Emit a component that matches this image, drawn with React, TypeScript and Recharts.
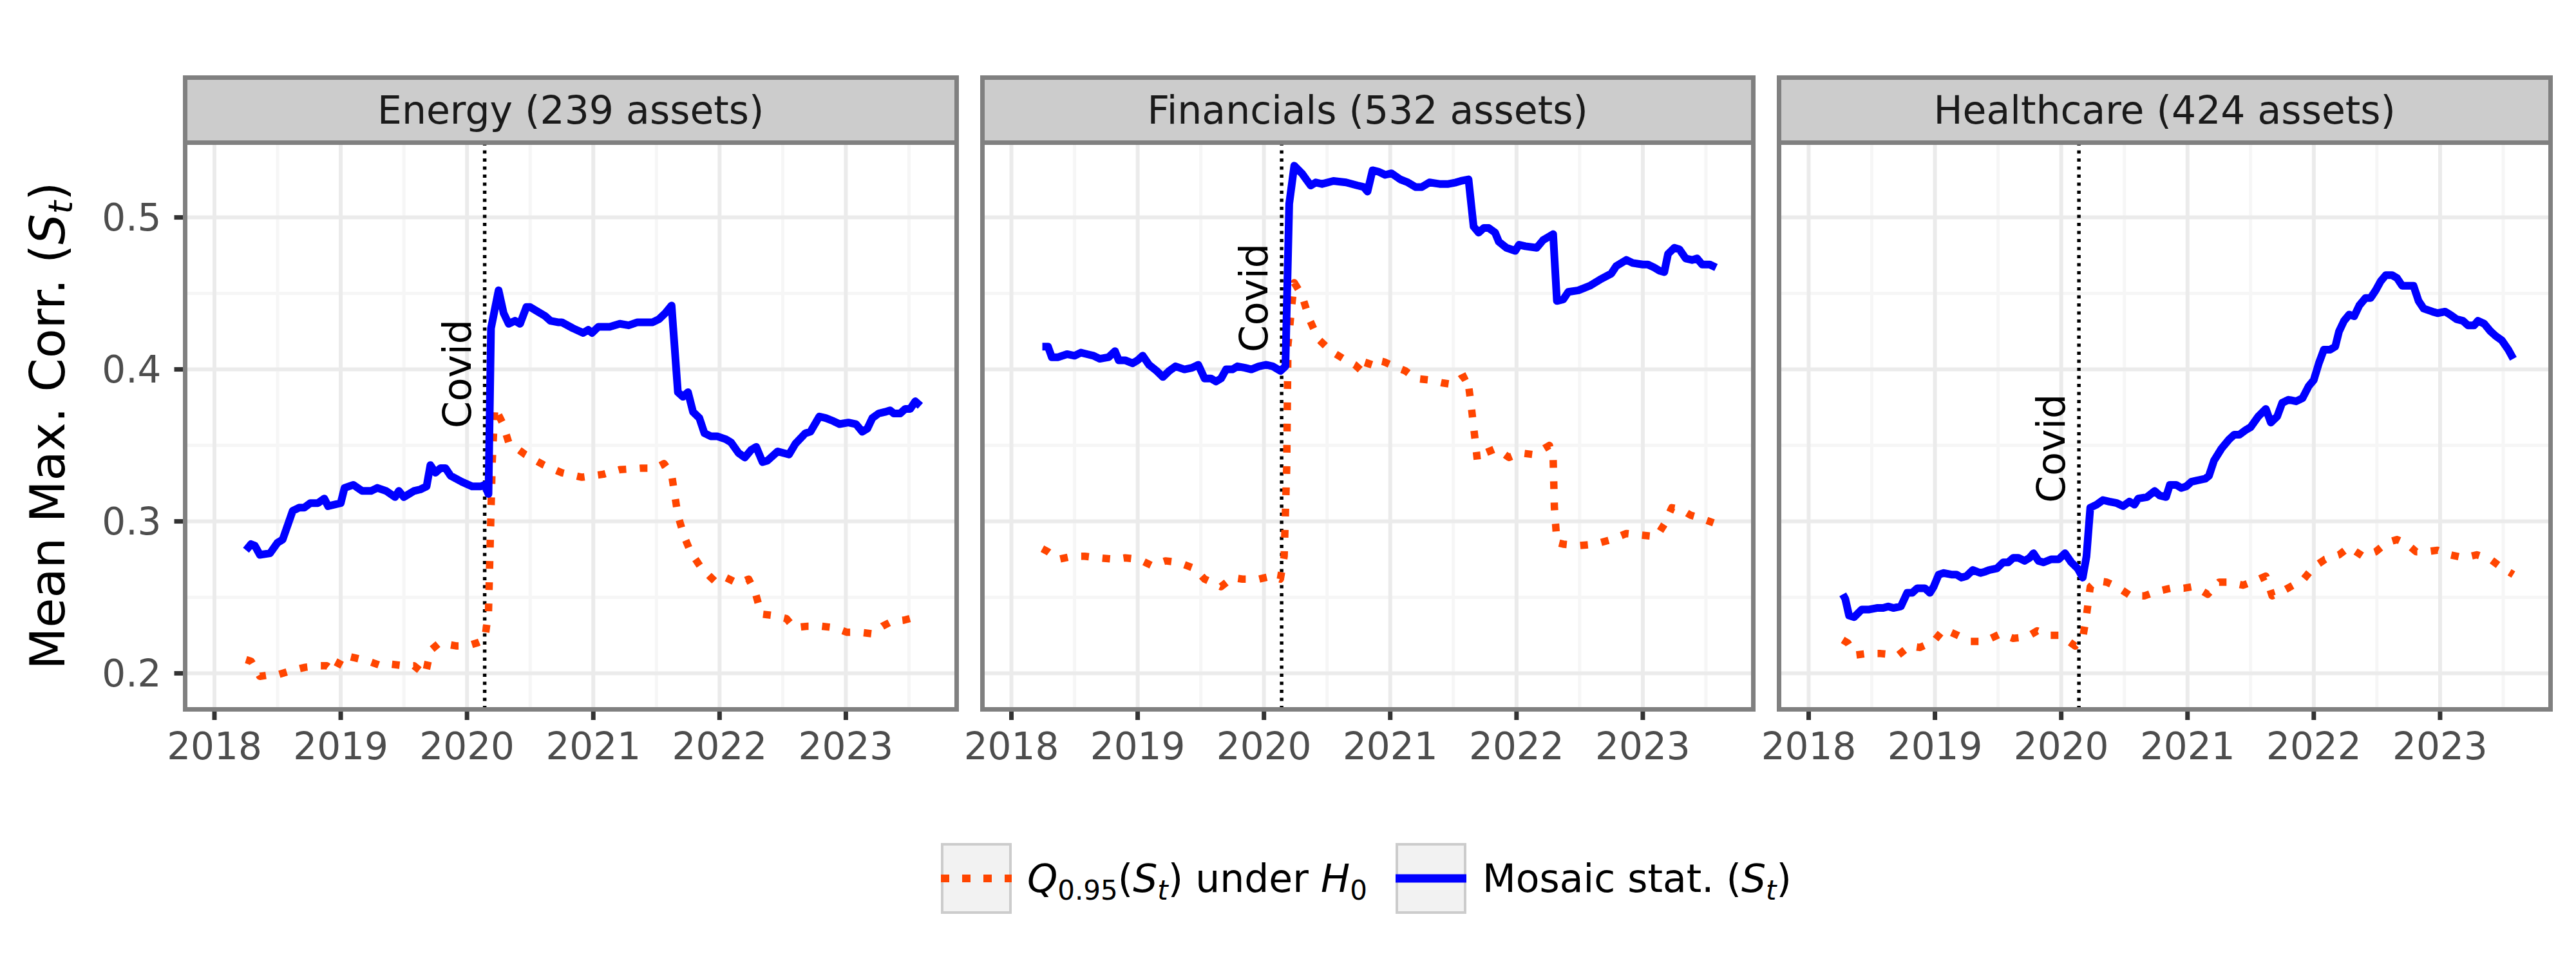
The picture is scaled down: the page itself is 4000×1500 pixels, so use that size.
import { LineChart, Line, XAxis, YAxis, ReferenceLine, ReferenceDot } from 'recharts'

// the page keeps the default 8px body margin otherwise
document.body.style.margin = '0'

const FONT = '"DejaVu Sans", sans-serif'

const yearTicks = [2018, 2019, 2020, 2021, 2022, 2023]
const yearMinor = [2018.5, 2019.5, 2020.5, 2021.5, 2022.5, 2023.5]
const corrTicks = [0.2, 0.3, 0.4, 0.5]
const corrMinor = [0.25, 0.35, 0.45]
const xDomain: [number, number] = [2017.768, 2023.875]
const yDomain: [number, number] = [0.1765, 0.5494]
const covidDate = 2020.14

const panelTitles = ['Energy (239 assets)', 'Financials (532 assets)', 'Healthcare (424 assets)']
const covidLabelAt = [0.397, 0.447, 0.348]

// [year, value]
const energyStat: [number, number][] = [
  [2018.25, 0.281], [2018.29, 0.285], [2018.32, 0.284], [2018.36, 0.278], [2018.44, 0.279],
  [2018.5, 0.286], [2018.54, 0.288], [2018.62, 0.307], [2018.67, 0.309], [2018.71, 0.309],
  [2018.76, 0.312], [2018.82, 0.312], [2018.87, 0.315], [2018.9, 0.31], [2019.0, 0.312],
  [2019.03, 0.322], [2019.1, 0.324], [2019.17, 0.32], [2019.24, 0.32], [2019.29, 0.322],
  [2019.36, 0.32], [2019.43, 0.316], [2019.46, 0.32], [2019.5, 0.316], [2019.58, 0.32],
  [2019.63, 0.321], [2019.68, 0.323], [2019.71, 0.337], [2019.75, 0.332], [2019.79, 0.335],
  [2019.83, 0.335], [2019.87, 0.33], [2019.96, 0.326], [2020.04, 0.323], [2020.11, 0.323],
  [2020.14, 0.324], [2020.17, 0.318], [2020.19, 0.427], [2020.25, 0.452], [2020.29, 0.437],
  [2020.33, 0.43], [2020.38, 0.432], [2020.42, 0.43], [2020.47, 0.441], [2020.5, 0.441],
  [2020.62, 0.435], [2020.66, 0.432], [2020.72, 0.431], [2020.75, 0.431], [2020.84, 0.427],
  [2020.92, 0.424], [2020.96, 0.426], [2020.99, 0.424], [2021.04, 0.428], [2021.13, 0.428],
  [2021.21, 0.43], [2021.28, 0.429], [2021.35, 0.431], [2021.47, 0.431], [2021.52, 0.433],
  [2021.57, 0.437], [2021.62, 0.442], [2021.67, 0.385], [2021.71, 0.382], [2021.75, 0.385],
  [2021.79, 0.372], [2021.84, 0.368], [2021.88, 0.358], [2021.93, 0.356], [2021.98, 0.356],
  [2022.05, 0.354], [2022.09, 0.352], [2022.15, 0.345], [2022.2, 0.342], [2022.25, 0.347],
  [2022.29, 0.349], [2022.34, 0.339], [2022.38, 0.34], [2022.46, 0.346], [2022.55, 0.344],
  [2022.6, 0.351], [2022.68, 0.358], [2022.72, 0.359], [2022.79, 0.369], [2022.84, 0.368],
  [2022.9, 0.366], [2022.95, 0.364], [2023.02, 0.365], [2023.08, 0.364], [2023.13, 0.359],
  [2023.17, 0.361], [2023.21, 0.368], [2023.26, 0.371], [2023.31, 0.372], [2023.35, 0.373],
  [2023.38, 0.371], [2023.43, 0.371], [2023.47, 0.374], [2023.51, 0.374], [2023.55, 0.379],
  [2023.59, 0.376],
]

const energyQ: [number, number][] = [
  [2018.25, 0.209], [2018.29, 0.208], [2018.36, 0.198], [2018.44, 0.199], [2018.5, 0.199],
  [2018.62, 0.202], [2018.72, 0.204], [2018.82, 0.205], [2018.89, 0.205], [2018.95, 0.201],
  [2019.02, 0.212], [2019.12, 0.21], [2019.22, 0.208], [2019.32, 0.205], [2019.4, 0.206],
  [2019.5, 0.205], [2019.58, 0.205], [2019.67, 0.199], [2019.71, 0.215], [2019.78, 0.22],
  [2019.85, 0.219], [2019.92, 0.218], [2020.0, 0.218], [2020.08, 0.22], [2020.14, 0.222],
  [2020.17, 0.24], [2020.2, 0.34], [2020.22, 0.375], [2020.28, 0.365], [2020.33, 0.352],
  [2020.46, 0.344], [2020.61, 0.337], [2020.75, 0.332], [2020.91, 0.329], [2021.08, 0.331],
  [2021.21, 0.334], [2021.38, 0.335], [2021.49, 0.335], [2021.56, 0.338], [2021.62, 0.331],
  [2021.67, 0.304], [2021.72, 0.29], [2021.77, 0.28], [2021.85, 0.27], [2021.92, 0.264],
  [2021.97, 0.26], [2022.05, 0.263], [2022.15, 0.259], [2022.23, 0.262], [2022.28, 0.254],
  [2022.33, 0.239], [2022.43, 0.238], [2022.53, 0.236], [2022.59, 0.23], [2022.7, 0.231],
  [2022.81, 0.231], [2022.91, 0.23], [2023.01, 0.227], [2023.11, 0.227], [2023.21, 0.226],
  [2023.29, 0.231], [2023.36, 0.234], [2023.46, 0.235], [2023.55, 0.237],
]

const financialsStat: [number, number][] = [
  [2018.245, 0.415], [2018.29, 0.415], [2018.32, 0.408], [2018.37, 0.408], [2018.44, 0.41],
  [2018.5, 0.409], [2018.55, 0.411], [2018.6, 0.41], [2018.65, 0.409], [2018.7, 0.407],
  [2018.77, 0.408], [2018.82, 0.412], [2018.85, 0.406], [2018.9, 0.406], [2018.96, 0.404],
  [2019.0, 0.406], [2019.04, 0.409], [2019.09, 0.403], [2019.15, 0.399], [2019.2, 0.395],
  [2019.25, 0.399], [2019.3, 0.402], [2019.37, 0.4], [2019.43, 0.401], [2019.48, 0.403],
  [2019.53, 0.394], [2019.58, 0.394], [2019.62, 0.392], [2019.66, 0.394], [2019.7, 0.4],
  [2019.75, 0.4], [2019.79, 0.402], [2019.85, 0.401], [2019.9, 0.4], [2019.96, 0.402],
  [2020.02, 0.403], [2020.07, 0.402], [2020.13, 0.399], [2020.17, 0.402], [2020.2, 0.509],
  [2020.24, 0.534], [2020.3, 0.529], [2020.37, 0.521], [2020.41, 0.523], [2020.46, 0.522],
  [2020.55, 0.524], [2020.65, 0.523], [2020.74, 0.521], [2020.79, 0.52], [2020.82, 0.517],
  [2020.86, 0.531], [2020.91, 0.53], [2020.96, 0.528], [2021.01, 0.529], [2021.08, 0.525],
  [2021.14, 0.523], [2021.2, 0.52], [2021.25, 0.52], [2021.31, 0.523], [2021.39, 0.522],
  [2021.46, 0.522], [2021.52, 0.523], [2021.56, 0.524], [2021.62, 0.525], [2021.66, 0.494],
  [2021.7, 0.49], [2021.74, 0.493], [2021.78, 0.493], [2021.83, 0.49], [2021.86, 0.484],
  [2021.92, 0.48], [2021.99, 0.478], [2022.02, 0.482], [2022.07, 0.481], [2022.16, 0.48],
  [2022.21, 0.485], [2022.29, 0.489], [2022.32, 0.445], [2022.37, 0.446], [2022.41, 0.451],
  [2022.49, 0.452], [2022.58, 0.455], [2022.66, 0.459], [2022.75, 0.463], [2022.79, 0.468],
  [2022.87, 0.472], [2022.92, 0.47], [2023.0, 0.469], [2023.04, 0.469], [2023.09, 0.467],
  [2023.13, 0.465], [2023.17, 0.464], [2023.2, 0.476], [2023.25, 0.48], [2023.29, 0.479],
  [2023.34, 0.473], [2023.39, 0.472], [2023.43, 0.473], [2023.47, 0.469], [2023.53, 0.469],
  [2023.58, 0.467],
]

const financialsQ: [number, number][] = [
  [2018.245, 0.282], [2018.29, 0.28], [2018.37, 0.275], [2018.48, 0.277], [2018.58, 0.277],
  [2018.69, 0.276], [2018.82, 0.275], [2018.9, 0.276], [2019.01, 0.275], [2019.11, 0.271],
  [2019.22, 0.274], [2019.32, 0.273], [2019.45, 0.269], [2019.53, 0.262], [2019.61, 0.259],
  [2019.66, 0.257], [2019.75, 0.263], [2019.83, 0.262], [2019.96, 0.262], [2020.06, 0.264],
  [2020.13, 0.262], [2020.16, 0.277], [2020.18, 0.335], [2020.19, 0.416], [2020.22, 0.442],
  [2020.24, 0.457], [2020.3, 0.449], [2020.36, 0.433], [2020.43, 0.42], [2020.53, 0.412],
  [2020.63, 0.407], [2020.72, 0.403], [2020.8, 0.397], [2020.84, 0.407], [2020.95, 0.405],
  [2021.03, 0.402], [2021.12, 0.399], [2021.2, 0.394], [2021.31, 0.393], [2021.42, 0.391],
  [2021.5, 0.39], [2021.56, 0.394], [2021.61, 0.396], [2021.64, 0.377], [2021.67, 0.355],
  [2021.69, 0.34], [2021.75, 0.345], [2021.84, 0.348], [2021.94, 0.342], [2022.03, 0.345],
  [2022.13, 0.344], [2022.2, 0.347], [2022.26, 0.35], [2022.29, 0.342], [2022.3, 0.309],
  [2022.32, 0.286], [2022.37, 0.285], [2022.49, 0.284], [2022.62, 0.285], [2022.75, 0.288],
  [2022.87, 0.292], [2022.98, 0.291], [2023.11, 0.29], [2023.17, 0.298], [2023.23, 0.309],
  [2023.3, 0.308], [2023.38, 0.304], [2023.46, 0.302], [2023.56, 0.299],
]

const healthcareStat: [number, number][] = [
  [2018.27, 0.252], [2018.29, 0.249], [2018.32, 0.238], [2018.36, 0.237], [2018.42, 0.242],
  [2018.48, 0.242], [2018.54, 0.243], [2018.59, 0.243], [2018.63, 0.244], [2018.67, 0.243],
  [2018.73, 0.244], [2018.78, 0.253], [2018.82, 0.253], [2018.86, 0.256], [2018.92, 0.256],
  [2018.96, 0.253], [2018.99, 0.257], [2019.03, 0.265], [2019.07, 0.266], [2019.13, 0.265],
  [2019.17, 0.265], [2019.21, 0.263], [2019.25, 0.264], [2019.3, 0.268], [2019.36, 0.266],
  [2019.4, 0.267], [2019.43, 0.268], [2019.49, 0.269], [2019.54, 0.273], [2019.58, 0.273],
  [2019.62, 0.276], [2019.66, 0.276], [2019.71, 0.274], [2019.75, 0.276], [2019.78, 0.279],
  [2019.82, 0.274], [2019.86, 0.273], [2019.92, 0.275], [2019.98, 0.275], [2020.03, 0.279],
  [2020.08, 0.273], [2020.13, 0.269], [2020.17, 0.263], [2020.2, 0.277], [2020.23, 0.309],
  [2020.28, 0.311], [2020.33, 0.314], [2020.38, 0.313], [2020.44, 0.312], [2020.49, 0.31],
  [2020.54, 0.313], [2020.58, 0.311], [2020.61, 0.315], [2020.68, 0.316], [2020.74, 0.32],
  [2020.78, 0.317], [2020.83, 0.316], [2020.86, 0.324], [2020.91, 0.324], [2020.95, 0.322],
  [2020.99, 0.323], [2021.03, 0.326], [2021.08, 0.327], [2021.14, 0.328], [2021.17, 0.33],
  [2021.21, 0.34], [2021.27, 0.348], [2021.33, 0.354], [2021.37, 0.357], [2021.41, 0.357],
  [2021.46, 0.36], [2021.5, 0.362], [2021.56, 0.369], [2021.62, 0.374], [2021.66, 0.365],
  [2021.71, 0.369], [2021.75, 0.378], [2021.8, 0.38], [2021.86, 0.379], [2021.91, 0.381],
  [2021.96, 0.389], [2022.0, 0.393], [2022.04, 0.404], [2022.08, 0.413], [2022.13, 0.413],
  [2022.17, 0.415], [2022.2, 0.425], [2022.24, 0.432], [2022.28, 0.436], [2022.32, 0.435],
  [2022.36, 0.442], [2022.41, 0.447], [2022.45, 0.447], [2022.49, 0.452], [2022.53, 0.458],
  [2022.57, 0.462], [2022.62, 0.462], [2022.66, 0.46], [2022.7, 0.455], [2022.75, 0.455],
  [2022.79, 0.455], [2022.83, 0.445], [2022.87, 0.44], [2022.94, 0.438], [2022.98, 0.437],
  [2023.04, 0.438], [2023.08, 0.436], [2023.13, 0.433], [2023.18, 0.432], [2023.22, 0.429],
  [2023.27, 0.429], [2023.3, 0.432], [2023.35, 0.43], [2023.4, 0.425], [2023.44, 0.422],
  [2023.49, 0.419], [2023.54, 0.413], [2023.58, 0.407],
]

const healthcareQ: [number, number][] = [
  [2018.27, 0.222], [2018.31, 0.22], [2018.37, 0.212], [2018.46, 0.213], [2018.57, 0.213],
  [2018.71, 0.212], [2018.8, 0.218], [2018.88, 0.217], [2018.99, 0.221], [2019.07, 0.229],
  [2019.18, 0.225], [2019.28, 0.221], [2019.39, 0.221], [2019.52, 0.226], [2019.62, 0.223],
  [2019.73, 0.224], [2019.81, 0.228], [2019.9, 0.225], [2019.98, 0.225], [2020.06, 0.221],
  [2020.11, 0.218], [2020.17, 0.223], [2020.2, 0.238], [2020.23, 0.257], [2020.28, 0.261],
  [2020.36, 0.26], [2020.44, 0.257], [2020.55, 0.251], [2020.66, 0.251], [2020.76, 0.254],
  [2020.87, 0.256], [2020.97, 0.256], [2021.04, 0.257], [2021.08, 0.256], [2021.16, 0.252],
  [2021.25, 0.26], [2021.33, 0.26], [2021.44, 0.258], [2021.54, 0.261], [2021.62, 0.264],
  [2021.67, 0.251], [2021.75, 0.254], [2021.86, 0.259], [2021.92, 0.262], [2022.0, 0.27],
  [2022.09, 0.275], [2022.2, 0.278], [2022.28, 0.283], [2022.39, 0.277], [2022.49, 0.28],
  [2022.58, 0.286], [2022.66, 0.288], [2022.74, 0.285], [2022.81, 0.28], [2022.89, 0.28],
  [2022.98, 0.281], [2023.08, 0.278], [2023.19, 0.276], [2023.29, 0.278], [2023.4, 0.275],
  [2023.48, 0.27], [2023.58, 0.265],
]

const pts = (a: [number, number][]) => a.map(([x, y]) => ({ x, y }))

const panelStat = [energyStat, financialsStat, healthcareStat].map(pts)
const panelQ = [energyQ, financialsQ, healthcareQ].map(pts)

const BLUE = '#0000FF'
const ORANGE = '#FF4500'
const PLOT_TOP = 221
const PLOT_H = 880
const PLOT_W = 1197.5
const AXIS_H = 110
const SIDE = 70 // room for the first x tick label on panels without a y axis
const panelLefts = [287.5, 1525, 2762.5]

const tickStyle = { fill: '#4D4D4D', fontSize: 58, fontFamily: FONT }
const tickLine = { stroke: '#333333', strokeWidth: 7 }

function YTitle(props: any) {
  const vb = props.viewBox || { y: PLOT_TOP, height: PLOT_H }
  const x = 100
  const y = vb.y + vb.height / 2
  return (
    <text x={x} y={y} transform={`rotate(-90 ${x} ${y})`} textAnchor="middle"
      fontFamily={FONT} fontSize={75} fill="#000000">
      Mean Max. Corr. (<tspan fontStyle="italic">S</tspan>
      <tspan fontStyle="italic" fontSize={52} dy={12}>t</tspan>
      <tspan dy={-12}>)</tspan>
    </text>
  )
}

function CovidLabel(props: any) {
  const vb = props.viewBox
  const x = vb.x + (vb.width || 0) / 2 - 22
  const y = vb.y + (vb.height || 0) / 2
  return (
    <text x={x} y={y} transform={`rotate(-90 ${x} ${y})`} textAnchor="middle"
      fontFamily={FONT} fontSize={60} fill="#000000">Covid</text>
  )
}

function Panel({ idx }: { idx: number }) {
  const left = panelLefts[idx]
  const first = idx === 0
  const chartLeft = first ? 0 : left - SIDE
  const leftRoom = first ? left : SIDE
  return (
    <>
      <div style={{
        position: 'absolute', left: left - 3.5, top: 117, width: PLOT_W + 7, height: 107.5,
        boxSizing: 'border-box', border: '7px solid #808080', background: '#CCCCCC',
        display: 'flex', alignItems: 'center', justifyContent: 'center',
        fontFamily: FONT, fontSize: 60, color: '#1A1A1A',
      }}>
        {panelTitles[idx]}
      </div>
      <div style={{ position: 'absolute', left: chartLeft, top: 0 }}>
        <LineChart width={leftRoom + PLOT_W + SIDE} height={PLOT_TOP + PLOT_H + AXIS_H}
          margin={{ top: PLOT_TOP, right: SIDE, bottom: 0, left: first ? 0 : SIDE }}>
          <XAxis type="number" dataKey="x" domain={xDomain} ticks={yearTicks} allowDataOverflow
            interval={0} height={AXIS_H} tickSize={17} tickMargin={20} axisLine={false}
            tickLine={tickLine} tick={tickStyle} />
          {first ? (
            <YAxis type="number" domain={yDomain} ticks={corrTicks} allowDataOverflow width={left}
              tickSize={17} tickMargin={20} axisLine={false} tickLine={tickLine} tick={tickStyle}
              tickFormatter={(v: number) => v.toFixed(1)} label={(p: any) => <YTitle {...p} />} />
          ) : (
            <YAxis type="number" domain={yDomain} allowDataOverflow hide />
          )}
          {yearMinor.map(v => (
            <ReferenceLine key={'xm' + v} x={v} stroke="#F6F6F6" strokeWidth={5} zIndex={-100} />
          ))}
          {corrMinor.map(v => (
            <ReferenceLine key={'ym' + v} y={v} stroke="#F6F6F6" strokeWidth={5} zIndex={-100} />
          ))}
          {yearTicks.map(v => (
            <ReferenceLine key={'x' + v} x={v} stroke="#EBEBEB" strokeWidth={6} zIndex={-90} />
          ))}
          {corrTicks.map(v => (
            <ReferenceLine key={'y' + v} y={v} stroke="#EBEBEB" strokeWidth={6} zIndex={-90} />
          ))}
          <ReferenceLine x={covidDate} stroke="#000000" strokeWidth={5.5} strokeDasharray="5 7.5" />
          <ReferenceDot x={covidDate} y={covidLabelAt[idx]} r={1} fill="none" stroke="none"
            label={{ content: (p: any) => <CovidLabel {...p} /> }} />
          <Line data={panelQ[idx]} dataKey="y" type="linear" stroke={ORANGE} strokeWidth={11.5}
            strokeDasharray="12 21" strokeLinejoin="round" dot={false} activeDot={false}
            isAnimationActive={false} />
          <Line data={panelStat[idx]} dataKey="y" type="linear" stroke={BLUE} strokeWidth={12}
            strokeLinejoin="round" dot={false} activeDot={false} isAnimationActive={false} />
        </LineChart>
      </div>
      <div style={{
        position: 'absolute', left: left - 3.5, top: PLOT_TOP - 3.5, width: PLOT_W + 7,
        height: PLOT_H + 7, boxSizing: 'border-box', border: '7px solid #808080',
        pointerEvents: 'none',
      }} />
    </>
  )
}

function LegendKey({ left, dashed }: { left: number; dashed: boolean }) {
  return (
    <svg width={110} height={110} style={{ position: 'absolute', left, top: 1309 }}>
      <rect x={2} y={2} width={106} height={106} fill="#F2F2F2" stroke="#CCCCCC" strokeWidth={4} />
      <line x1={0} x2={110} y1={55} y2={55} stroke={dashed ? ORANGE : BLUE}
        strokeWidth={dashed ? 12 : 13} strokeDasharray={dashed ? '13 20' : undefined} />
    </svg>
  )
}

const legendText = {
  position: 'absolute' as const, top: 1309, height: 110, display: 'flex', alignItems: 'center',
  fontFamily: FONT, fontSize: 60, color: '#000000', whiteSpace: 'nowrap' as const,
}
const sub = { fontSize: '70%', position: 'relative' as const, top: '0.28em' }

export default function App() {
  return (
    <div style={{ position: 'relative', width: 4000, height: 1500, background: '#FFFFFF', overflow: 'hidden' }}>
      {[0, 1, 2].map(i => <Panel key={i} idx={i} />)}
      <LegendKey left={1461} dashed />
      <div style={{ ...legendText, left: 1595 }}>
        <span><i>Q</i><span style={sub}>0.95</span>(<i>S</i><i style={sub}>t</i>) under <i>H</i><span style={sub}>0</span></span>
      </div>
      <LegendKey left={2167} dashed={false} />
      <div style={{ ...legendText, left: 2302 }}>
        <span>Mosaic stat. (<i>S</i><i style={sub}>t</i>)</span>
      </div>
    </div>
  )
}
